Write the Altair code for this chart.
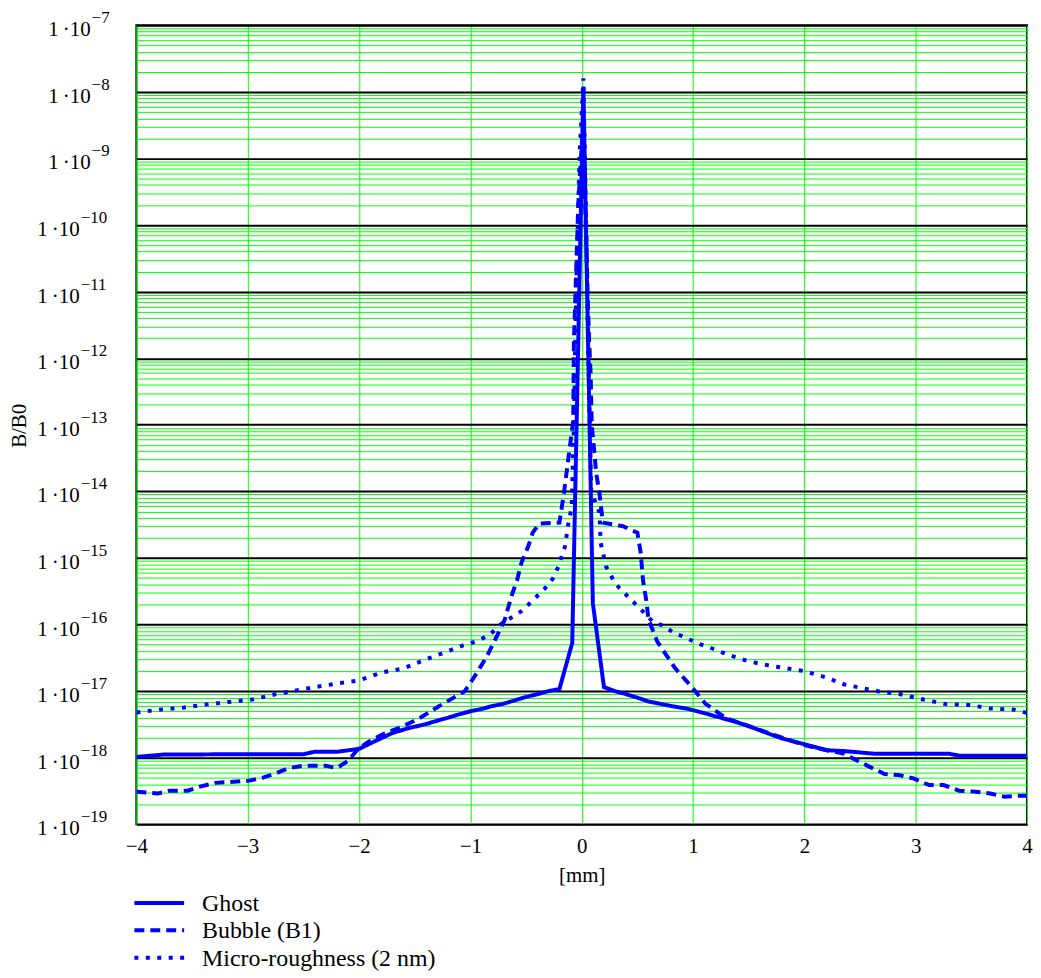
import altair as alt
import pandas as pd

# ---- data ----
series_names = ["Ghost", "Bubble (B1)", "Micro-roughness (2 nm)"]

ghost_x = [-4.0, -3.75, -3.0, -2.5, -2.4, -2.2, -2.0, -1.85, -1.7, -1.55, -1.4, -1.3, -1.2,
           -1.1, -1.0, -0.9, -0.8, -0.7, -0.6, -0.5, -0.4, -0.3, -0.2, -0.085, 0.015, 0.1,
           0.2, 0.3, 0.4, 0.5, 0.6, 0.7, 0.8, 0.96, 1.1, 1.2, 1.35, 1.5, 1.65, 1.8, 2.0,
           2.2, 2.36, 2.63, 3.3, 3.4, 4.0]
ghost_y = [1.03e-18, 1.12e-18, 1.13e-18, 1.13e-18, 1.23e-18, 1.23e-18, 1.36e-18, 1.8e-18,
           2.36e-18, 2.8e-18, 3.2e-18, 3.6e-18, 4.0e-18, 4.5e-18, 5.0e-18, 5.4e-18, 6.0e-18,
           6.5e-18, 7.3e-18, 8.2e-18, 9.0e-18, 1.0e-17, 1.08e-17, 5.3e-17, 1.2e-8, 2.1e-16,
           1.15e-17, 1.0e-17, 9.0e-18, 8.0e-18, 7.0e-18, 6.5e-18, 6.0e-18, 5.4e-18, 4.7e-18,
           4.2e-18, 3.6e-18, 3.0e-18, 2.4e-18, 1.95e-18, 1.6e-18, 1.3e-18, 1.26e-18, 1.15e-18,
           1.15e-18, 1.07e-18, 1.07e-18]

bubble_x = [-4.0, -3.81, -3.7, -3.54, -3.43, -3.29, -3.0, -2.87, -2.75, -2.63, -2.5, -2.3,
            -2.2, -2.1, -2.0, -1.9, -1.8, -1.6, -1.45, -1.3, -1.15, -1.05, -0.94, -0.85,
            -0.76, -0.69, -0.63, -0.58, -0.54, -0.48, -0.44, -0.38, -0.2, -0.16, -0.116,
            -0.076, -0.07, -0.03, 0.01, 0.04, 0.055, 0.067, 0.08, 0.09, 0.11, 0.13, 0.16,
            0.19, 0.37, 0.5, 0.53, 0.55, 0.58, 0.6, 0.68, 0.84, 1.0, 1.11, 1.3, 1.5, 1.8,
            2.0, 2.2, 2.36, 2.45, 2.56, 2.72, 2.85, 2.98, 3.12, 3.25, 3.39, 3.54, 3.67,
            3.8, 3.94, 4.0]
bubble_y = [3.1e-19, 2.9e-19, 3.2e-19, 3.2e-19, 3.7e-19, 4.2e-19, 4.5e-19, 5.0e-19, 5.8e-19,
            7.0e-19, 7.6e-19, 7.6e-19, 7.0e-19, 9.0e-19, 1.4e-18, 1.8e-18, 2.2e-18, 3.0e-18,
            4.0e-18, 5.7e-18, 8.0e-18, 1.0e-17, 1.9e-17, 3.4e-17, 6.8e-17, 1.2e-16, 2.7e-16,
            4.7e-16, 8.6e-16, 1.5e-15, 2.4e-15, 3.3e-15, 3.4e-15, 9.3e-15, 3.5e-14, 1.15e-13,
            1.8e-12, 2.2e-10, 3.0e-9, 7.0e-11, 7.2e-12, 1.8e-12, 6.0e-13, 1.0e-13, 4.5e-14,
            1.9e-14, 9.3e-15, 3.4e-15, 3.0e-15, 2.4e-15, 1.2e-15, 4.7e-16, 2.3e-16, 1.2e-16,
            5.5e-17, 2.2e-17, 1.1e-17, 6.5e-18, 3.9e-18, 3.0e-18, 2.0e-18, 1.55e-18, 1.3e-18,
            1.15e-18, 9.5e-19, 7.7e-19, 5.7e-19, 5.5e-19, 4.9e-19, 3.9e-19, 3.9e-19, 3.2e-19,
            3.1e-19, 2.9e-19, 2.6e-19, 2.7e-19, 2.7e-19]

micro_x = [-4.0, -3.78, -3.57, -3.38, -3.17, -2.96, -2.75, -2.6, -2.4, -2.2, -2.0, -1.8,
           -1.6, -1.4, -1.2, -1.05, -0.94, -0.82, -0.73, -0.54, -0.44, -0.33, -0.26, -0.21,
           -0.15, -0.12, -0.09, -0.07, -0.05, -0.02, 0.015, 0.04, 0.06, 0.085, 0.16, 0.17,
           0.22, 0.28, 0.34, 0.44, 0.53, 0.64, 0.74, 0.84, 0.93, 1.03, 1.14, 1.3, 1.5, 1.7,
           2.0, 2.2, 2.36, 2.66, 2.86, 3.07, 3.27, 3.48, 3.67, 3.88, 4.0]
micro_y = [4.8e-18, 5.3e-18, 5.7e-18, 6.3e-18, 6.9e-18, 7.5e-18, 9.0e-18, 1.0e-17, 1.15e-17,
           1.3e-17, 1.45e-17, 1.9e-17, 2.2e-17, 3.0e-17, 4.0e-17, 5.0e-17, 5.6e-17, 7.2e-17,
           1.0e-16, 1.6e-16, 2.3e-16, 3.5e-16, 4.9e-16, 7.4e-16, 1.5e-15, 3.3e-15, 5.8e-15,
           1.0e-13, 1.0e-11, 1.0e-9, 1.6e-8, 1.0e-10, 1.0e-12, 1.0e-14, 4.8e-15, 1.7e-15,
           7.4e-16, 4.8e-16, 3.5e-16, 2.4e-16, 1.7e-16, 1.1e-16, 9.5e-17, 7.3e-17, 6.5e-17,
           5.3e-17, 4.6e-17, 3.6e-17, 2.8e-17, 2.4e-17, 2.0e-17, 1.6e-17, 1.26e-17, 1.0e-17,
           9.0e-18, 7.5e-18, 6.4e-18, 6.2e-18, 5.5e-18, 5.3e-18, 4.7e-18]

x_ticks = [-4, -3, -2, -1, 0, 1, 2, 3, 4]
decade_exps = list(range(-19, -6))
dash_styles = [[1, 0], [10, 6], [4, 7.5]]

# ---- tables ----
rows = []
for name, xs, ys in zip(series_names, [ghost_x, bubble_x, micro_x], [ghost_y, bubble_y, micro_y]):
    for i, (a, b) in enumerate(zip(xs, ys)):
        rows.append({"series": name, "x": a, "y": b, "order": i})
df = pd.DataFrame(rows)

grid_vals = [m * 10.0 ** e for e in range(-19, -7) for m in range(1, 10)] + [1e-7]


def decade_table(exps):
    return pd.DataFrame({"v": [10.0 ** e for e in exps],
                         "base": ["1\u2009\u00b710" for e in exps],
                         "lab": ["\u2212" + str(-e) for e in exps]})


one_digit = decade_table([e for e in decade_exps if e > -10])
two_digit = decade_table([e for e in decade_exps if e <= -10])

FONT = "Liberation Serif"
is_decade = "abs(log(datum.value)/LN10 - round(log(datum.value)/LN10)) < 0.001"

yscale = alt.Scale(type="log", domain=[1e-19, 1e-7], nice=False)
xscale = alt.Scale(domain=[-4, 4], nice=False, zero=False)

y_axis = alt.Axis(values=grid_vals, grid=True,
                  gridColor={"condition": {"test": is_decade, "value": "#000000"},
                             "value": "#00ff00"},
                  gridWidth={"condition": {"test": is_decade, "value": 2}, "value": 1},
                  ticks=False, domain=False, labels=False,
                  titleFont=FONT, titleFontSize=21, titleFontWeight="normal",
                  titleColor="black", titleAngle=-90, titleX=-117, titleY=402,
                  titleBaseline="middle", titleAlign="center")

x_axis = alt.Axis(values=x_ticks, grid=True, gridColor="#00ff00", gridWidth=1,
                  ticks=False, domain=False, labelFont=FONT, labelFontSize=21,
                  labelColor="black", labelPadding=11, labelFlush=False,
                  titleFont=FONT, titleFontSize=21, titleFontWeight="normal",
                  titleColor="black", titleY=40, titleBaseline="top")

lines = alt.Chart(df).mark_line(color="#0000ff", strokeWidth=4, clip=True).encode(
    x=alt.X("x:Q", scale=xscale, title="[mm]", axis=x_axis),
    y=alt.Y("y:Q", scale=yscale, title="B/B0", axis=y_axis),
    strokeDash=alt.StrokeDash("series:N",
                              scale=alt.Scale(domain=series_names, range=dash_styles),
                              legend=None),
    order="order:Q",
)

# y tick labels "1·10" with raised exponent, right-aligned as a whole
label_layers = []
for tbl, xpos in [(one_digit, -46), (two_digit, -57)]:
    label_layers.append(
        alt.Chart(tbl).mark_text(align="right", baseline="alphabetic", dy=11, fontSize=21,
                                 font=FONT, color="black").encode(
            y=alt.Y("v:Q", scale=yscale, title="B/B0", axis=y_axis),
            x=alt.value(xpos), text="base:N")
    )
    label_layers.append(
        alt.Chart(tbl).mark_text(align="left", baseline="alphabetic", dy=-2, fontSize=17,
                                 font=FONT, color="black").encode(
            y=alt.Y("v:Q", scale=yscale, title="B/B0", axis=y_axis),
            x=alt.value(xpos + 1), text="lab:N")
    )

# manual legend below the plot (one row per series)
legend_layers = []
for k, name in enumerate(series_names):
    row_y = 882 + 27.5 * k
    legend_layers.append(
        alt.Chart(pd.DataFrame({"name": [name]})).mark_rule(
            color="#0000ff", strokeWidth=4, strokeDash=dash_styles[k]).encode(
            x=alt.value(-2), x2=alt.value(48), y=alt.value(row_y))
    )
    legend_layers.append(
        alt.Chart(pd.DataFrame({"name": [name]})).mark_text(
            align="left", baseline="middle", font=FONT, fontSize=24, color="black").encode(
            x=alt.value(66), y=alt.value(row_y + 1), text="name:N")
    )

chart = alt.layer(lines, *label_layers, *legend_layers).properties(
    width=895, height=803,
    autosize=alt.AutoSizeParams(type="none"),
    padding={"left": 129, "top": 15, "right": 6, "bottom": 150},
).configure_view(stroke="black", strokeWidth=2)

chart.save("out.html", embed_options={"renderer": "svg", "actions": False})
